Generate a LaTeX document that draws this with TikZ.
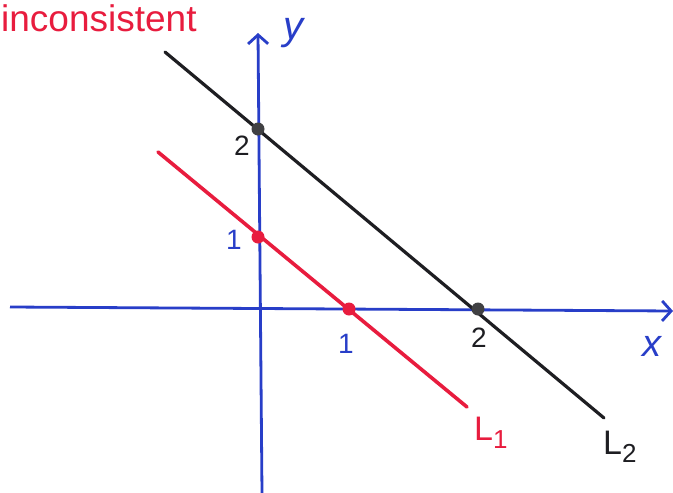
\documentclass[tikz,border=0pt]{standalone}
\usepackage{fontspec}
\setmainfont{Liberation Sans}
\usetikzlibrary{arrows.meta}
\definecolor{hred}{RGB}{232,28,62}
\definecolor{hblue}{RGB}{40,62,200}
\definecolor{hblack}{RGB}{30,30,34}
\tikzset{
  axis/.style={hblue, line width=2.8pt, -{Straight Barb[length=9pt,width=20pt,line width=2.8pt]}},
  lineA/.style={hred, line width=3.6pt},
  lineB/.style={hblack, line width=3.2pt},
  dotA/.style={circle, fill=hred, inner sep=0pt, minimum size=13pt},
  dotB/.style={circle, fill=hblack!85!white, inner sep=0pt, minimum size=13pt},
  lbl/.style={font=\fontsize{28}{30}\selectfont, inner sep=0pt},
}
\newcommand{\lsub}[1]{\raisebox{-8pt}{\fontsize{26}{26}\selectfont #1}}
\begin{document}
\begin{tikzpicture}[x=1pt,y=-1pt]
\useasboundingbox (0,0) rectangle (673,493);
\fill[white] (0,0) rectangle (673,493);
% axes
\coordinate (xs) at (10,307);
\coordinate (xe) at (673,311);
\coordinate (ys) at (262,493);
\coordinate (ye) at (258,33);
\draw[axis] (xs) -- (xe);
\draw[axis] (ys) -- (ye);
% lines
\coordinate (b1) at (165,52);
\coordinate (b2) at (604,418);
\coordinate (r1) at (158,152);
\coordinate (r2) at (467,407);
\draw[lineB, line cap=round] (b1) -- (b2);
\draw[lineA, line cap=round] (r1) -- (r2);
% intercept points
\node[dotB] (p1) at (258,129) {};
\node[dotB] (p2) at (478,309) {};
\node[dotA] (q1) at (258,237) {};
\node[dotA] (q2) at (349,309) {};
% labels
\node[lbl, hblack] (l2y) at (242,146) {2};
\node[lbl, hblue] (l1y) at (234,240) {1};
\node[lbl, hblue] (l1x) at (346,344) {1};
\node[lbl, hblack] (l2x) at (479,338) {2};
\node[lbl, hblue, font=\fontsize{38}{40}\selectfont\itshape] (xl) at (652,346) {x};
\node[lbl, hblue, font=\fontsize{40}{42}\selectfont\itshape] (yl) at (293,33) {y};
\node[lbl, hred, font=\fontsize{34}{36}\selectfont, anchor=west] (L1) at (474,433) {L\lsub{1}};
\node[lbl, hblack, font=\fontsize{34}{36}\selectfont, anchor=west] (L2) at (603,447) {L\lsub{2}};
\node[hred, font=\fontsize{37}{40}\selectfont, anchor=base west, inner sep=0pt] (title) at (1,31) {inconsistent};
\end{tikzpicture}
\end{document}
